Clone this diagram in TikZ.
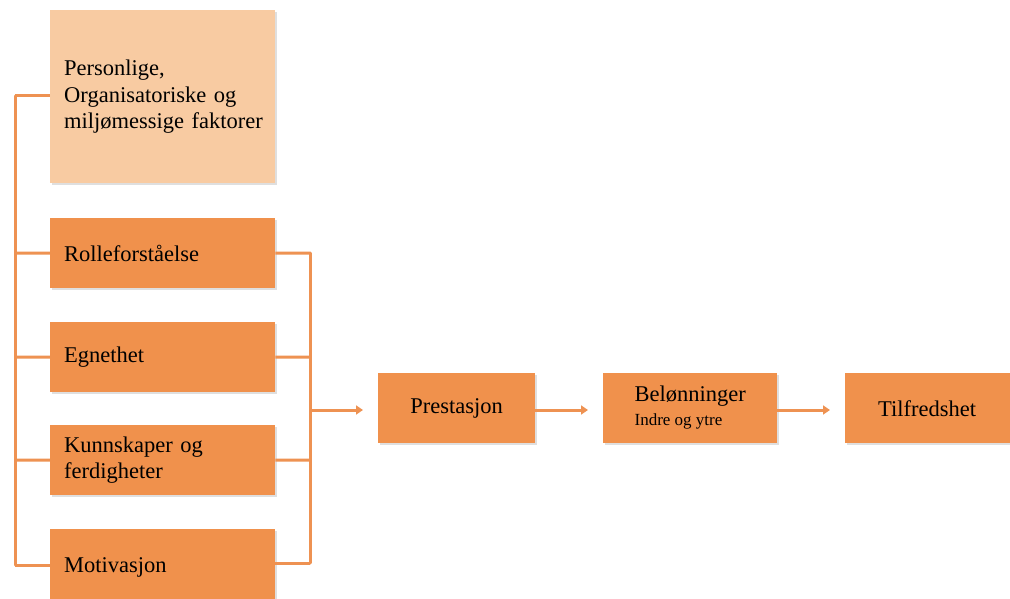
\documentclass[tikz,border=0pt]{standalone}
\usepackage{fontspec}
\setmainfont{Liberation Serif}
\usetikzlibrary{arrows.meta,shadows}
\definecolor{darkor}{RGB}{240,145,76}
\definecolor{lightor}{RGB}{248,203,162}
\definecolor{lineor}{RGB}{238,146,82}
\tikzset{
  box/.style={draw=none, fill=darkor, anchor=north west, inner sep=0pt,
    drop shadow={shadow xshift=1.5pt, shadow yshift=-2pt, opacity=0.25},
    font=\fontsize{22.5}{26.5}\selectfont, text=black},
  leftbox/.style={box, align=left, text width=225pt, inner xsep=0pt, minimum width=225pt, minimum height=70pt,
    execute at begin node={\leftskip=14pt\hyphenpenalty=10000}},
  midbox/.style={box, align=center, minimum width=157pt, minimum height=70pt},
  conn/.style={draw=lineor, line width=3pt},
  arr/.style={conn, -{Triangle[length=7pt,width=9pt]}}
}
\begin{document}
\begin{tikzpicture}[x=1pt,y=-1pt]
\useasboundingbox (0,0) rectangle (1010,599);
\clip (0,0) rectangle (1010,599);
\fill[white] (0,0) rectangle (1010,599);
\coordinate (l1) at (15,96);
\coordinate (l5) at (15,565);
\coordinate (r1) at (310,253);
\coordinate (r4) at (310,563);
\coordinate (rm) at (310,410);
\node[leftbox, fill=lightor, minimum height=173pt] (pers) at (50,10) {Personlige,\\Organisatoriske og\\miljømessige faktorer};
\node[leftbox] (rolle) at (50,218) {Rolleforståelse};
\node[leftbox] (egn) at (50,322) {Egnethet};
\node[leftbox] (kunn) at (50,425) {Kunnskaper og\\ferdigheter};
\node[leftbox, minimum height=76pt] (mot) at (50,529) {Motivasjon};
\node[midbox] (pres) at (378,373) {Prestasjon};
\node[midbox, minimum width=174pt] (bel) at (603,373) {\begin{tabular}{@{}l@{}}Belønninger\\[-3pt]{\fontsize{17}{20}\selectfont Indre og ytre}\end{tabular}};
\node[midbox, minimum width=170pt] (tilf) at (845,373) {Tilfredshet\hspace{6pt}};
% left connectors
\draw[conn, line cap=round] (l1) -- (l5);
\draw[conn] (l1) -- (pers.west |- l1);
\draw[conn] (15,253) -- (rolle.west);
\draw[conn] (15,357) -- (egn.west);
\draw[conn] (15,460) -- (kunn.west);
\draw[conn] (l5) -- (mot.west |- l5);
% right connectors
\draw[conn, line cap=round] (r1) -- (r4);
\draw[conn] (rolle.east) -- (r1);
\draw[conn] (egn.east) -- (310,357);
\draw[conn] (kunn.east) -- (310,460);
\draw[conn] (mot.east |- r4) -- (r4);
% arrows
\draw[arr] (rm) -- (363,410);
\draw[arr] (pres.east |- rm) -- (588,410);
\draw[arr] (bel.east |- rm) -- (830,410);
\end{tikzpicture}
\end{document}
